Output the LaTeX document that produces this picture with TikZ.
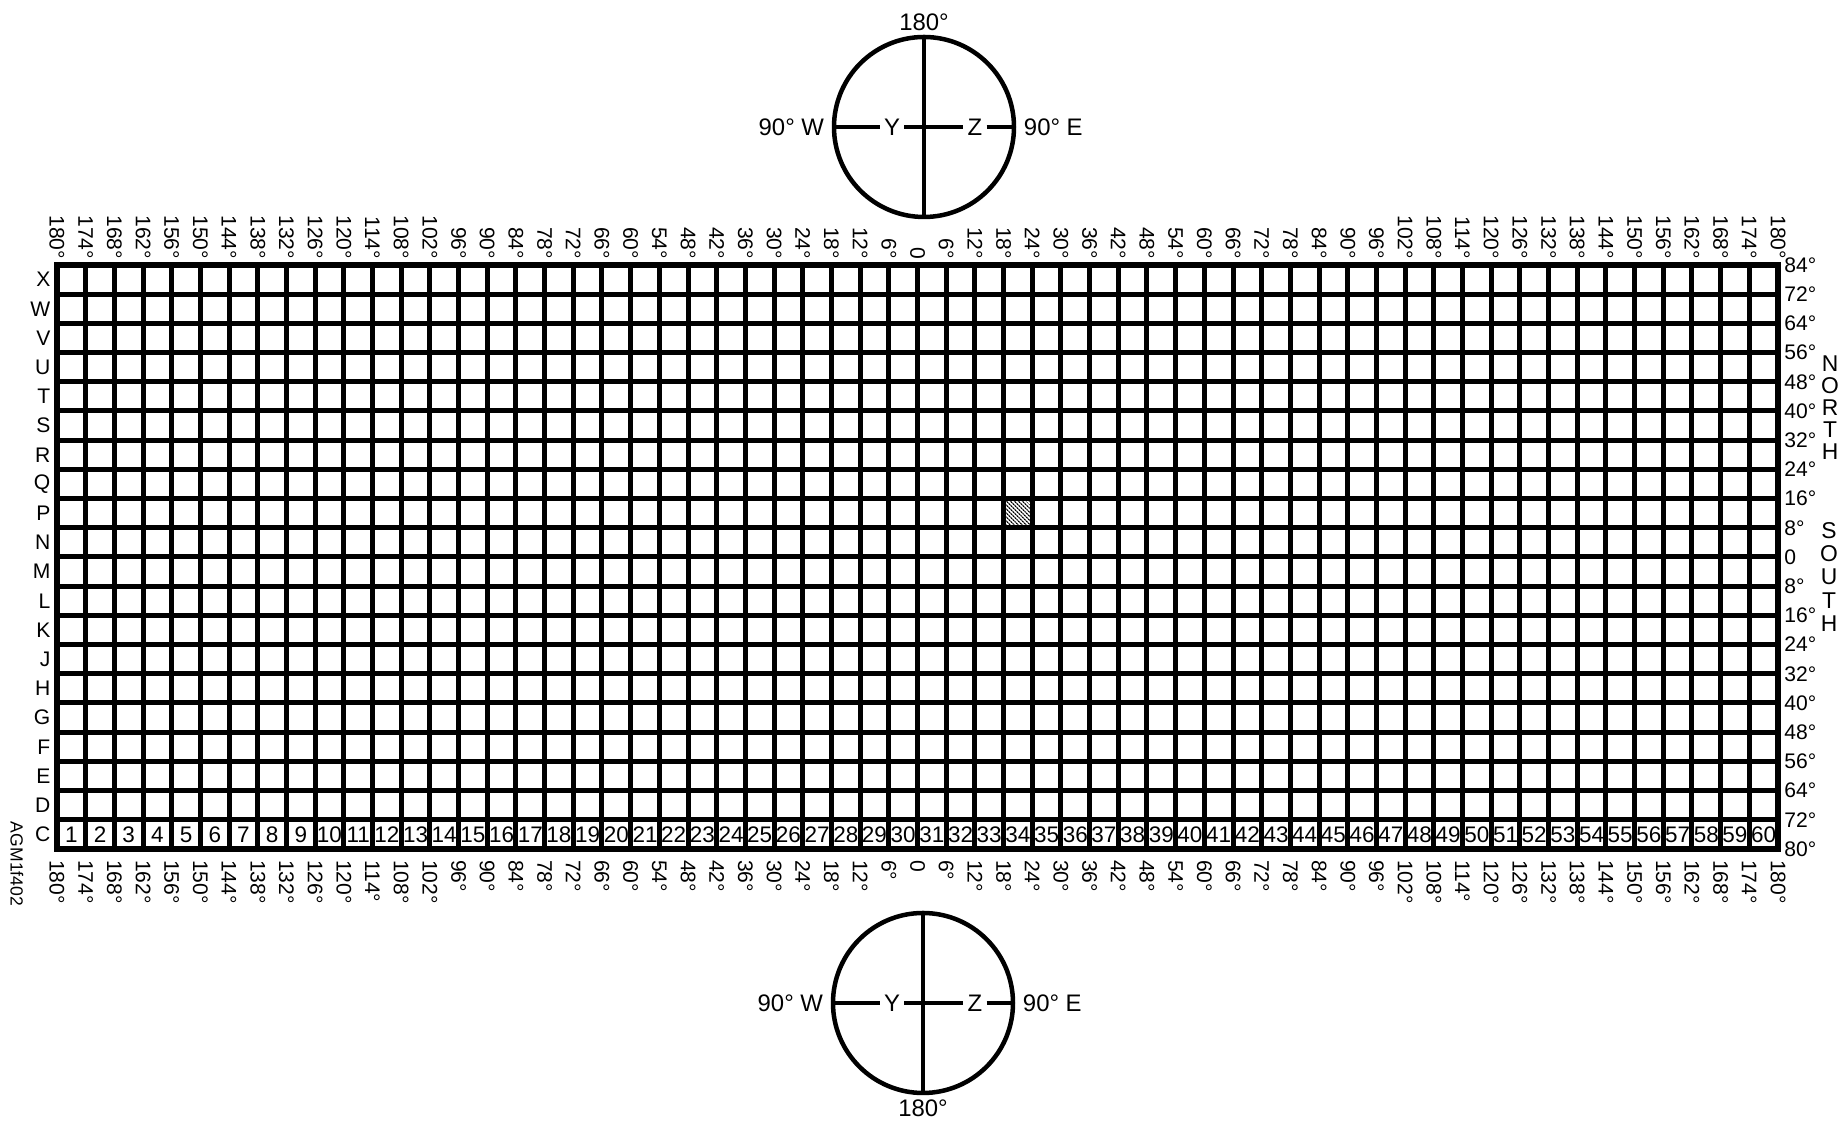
\documentclass[tikz,border=0pt]{standalone}
\usepackage{fontspec}
\setmainfont{Liberation Sans}
\usetikzlibrary{positioning,patterns.meta}

\begin{document}
\begin{tikzpicture}[
		cell/.style   = {line width=0.5mm},
		frame/.style  = {line width=0.6mm},
		collab/.style = {rotate=-90, inner sep=0.5pt, font=\fontsize{6}{7}\selectfont},
		rowlab/.style = {anchor=east, inner sep=0.5pt, font=\fontsize{6}{7}\selectfont},
		latlab/.style = {anchor=west, inner sep=0.5pt, font=\fontsize{6}{7}\selectfont},
		numlab/.style = {inner sep=0pt, font=\fontsize{6.4}{7}\selectfont},
		globe/.style  = {circle, draw, line width=0.45mm, minimum size=1.8cm, inner sep=0pt},
		cmp/.style    = {inner sep=1pt, font=\fontsize{6.8}{7}\selectfont},
		axis/.style   = {line width=0.4mm},
		]
		\useasboundingbox (0,0) rectangle (18.46,11.23);
		
		% === === Grid === ===
		\begin{scope}[shift={(0.57,2.74)}, x=0.28683cm, y=0.292cm]
			\fill[pattern={Lines[angle=-45,distance=0.9pt,line width=0.45pt]}] (33,11) rectangle (34,12);
			\foreach \i in {1,...,59}
				\draw[cell]	(\i,0)	--	(\i,20);
			\foreach \j in {1,...,19}
				\draw[cell]	(0,\j)	--	(60,\j);
			\draw[frame]	(0,0)	rectangle	(60,20);
			
			% longitude labels, top and bottom
			\foreach \i in {0,...,60}{
				\pgfmathtruncatemacro{\lon}{abs(180-6*\i)}
				\node[collab, anchor=east]	(t\i)	at	([yshift=1pt]\i,20)		{\lon\ifnum\lon>0 °\fi};
				\node[collab, anchor=west]	(b\i)	at	([yshift=-2.5pt]\i,0)	{\lon\ifnum\lon>0 °\fi};
			}
			
			% row letters
			\foreach \r [count=\j from 0] in {C,D,E,F,G,H,J,K,L,M,N,P,Q,R,S,T,U,V,W,X}
				\node[rowlab]	(r\r)	at	([xshift=-1.2pt]0,\j+0.5)	{\r};
			
			% latitude labels
			\foreach \lat [count=\k from 0] in {84°,72°,64°,56°,48°,40°,32°,24°,16°,8°,0,8°,16°,24°,32°,40°,48°,56°,64°,72°,80°}
				\node[latlab]	(lat\k)	at	([xshift=1.1pt]60,20-\k)	{\lat};
			
			% zone numbers
			\foreach \n in {1,...,60}
				\node[numlab]	(c\n)	at	(\n-0.5,0.5)	{\n};
		\end{scope}
		
		\node[align=center, inner sep=0pt, font=\fontsize{6.5}{6.3}\selectfont]	(north)	at	(18.30,7.155)	{N\\O\\R\\T\\H};
		\node[align=center, inner sep=0pt, font=\fontsize{6.5}{6.6}\selectfont]	(south)	at	(18.29,5.46)	{S\\O\\U\\T\\H};
		\node[rotate=-90, inner sep=0pt, font=\fontsize{5}{6}\selectfont]		(agm)	at	(0.17,2.59)		{AGM1f402};
		
		% === === Top globe === ===
		\node[globe]			(gtop)	at	(9.24,9.96)		{};
		\node[cmp, above=0pt of gtop]	(ntop)	{180°};
		\node[cmp, left=1pt of gtop]	(wtop)	{90° W};
		\node[cmp, right=1pt of gtop]	(etop)	{90° E};
		\node[cmp]				(ytop)	at	(8.92,9.96)		{Y};
		\node[cmp]				(ztop)	at	(9.75,9.96)		{Z};
		\draw[axis]	(gtop.north)	--	(gtop.south);
		\draw[axis]	(gtop.west)	--	(ytop)	--	(ztop)	--	(gtop.east);
		
		% === === Bottom globe === ===
		\node[globe]			(gbot)	at	(9.23,1.20)		{};
		\node[cmp, below=0pt of gbot]	(nbot)	{180°};
		\node[cmp, left=1pt of gbot]	(wbot)	{90° W};
		\node[cmp, right=1pt of gbot]	(ebot)	{90° E};
		\node[cmp]				(ybot)	at	(8.92,1.20)		{Y};
		\node[cmp]				(zbot)	at	(9.75,1.20)		{Z};
		\draw[axis]	(gbot.north)	--	(gbot.south);
		\draw[axis]	(gbot.west)	--	(ybot)	--	(zbot)	--	(gbot.east);
		
	\end{tikzpicture}
\end{document}
